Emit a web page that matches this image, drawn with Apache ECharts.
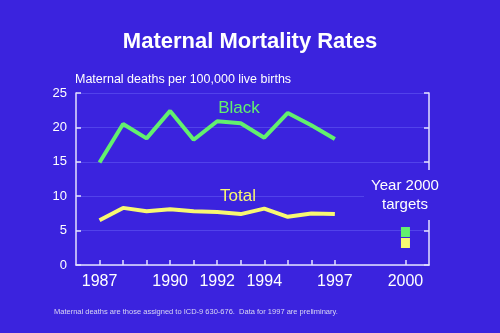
<!DOCTYPE html>
<html><head><meta charset="utf-8">
<script src="https://cdn.jsdelivr.net/npm/echarts@6/dist/echarts.min.js"></script>
<style>html,body{margin:0;padding:0;background:#3b23de}#c{width:500px;height:333px}</style>
</head><body><div id="c"></div>
<script>
const years = [1987,1988,1989,1990,1991,1992,1993,1994,1995,1996,1997];
const black = [14.9,20.5,18.4,22.4,18.2,20.9,20.6,18.5,22.1,20.3,18.3];
const total = [6.5,8.3,7.8,8.1,7.8,7.7,7.4,8.2,7.0,7.5,7.4];
const targetYear = 2000;
const targetBlack = 4.8;
const targetTotal = 3.2;
const xTickYears = [1987,1988,1989,1990,1991,1992,1993,1994,1995,1996,1997,2000];
const xLabelYears = [1987,1990,1992,1994,1997,2000];

const BG = '#3b23de';
const AX = '#e4e2ff';
const font = 'Liberation Sans, Arial, sans-serif';
const chart = echarts.init(document.getElementById('c'), null, {renderer:'canvas'});
const pair = (xs, ys) => xs.map((x,i)=>[x, ys[i]]);

chart.setOption({
  backgroundColor: BG,
  animation: false,
  title: {
    text: 'Maternal Mortality Rates', left: 'center', top: 26,
    textStyle: {color:'#ffffff', fontSize: 22, fontWeight:'bold', fontFamily: font}
  },
  grid: {left: 76, right: 71, top: 93, bottom: 68},
  xAxis: {
    type:'value', min:1986, max:2001, interval:1,
    axisLine:{show:true, lineStyle:{color:AX, width:1.5}},
    axisTick:{show:true, inside:true, length:5, customValues:xTickYears, lineStyle:{color:AX, width:1.5}},
    axisLabel:{customValues:xLabelYears, formatter:(v)=>String(v), color:'#ffffff', fontSize:16, fontFamily:font, margin:9},
    splitLine:{show:false}
  },
  yAxis: [{
    type:'value', min:0, max:25, interval:5,
    name:'Maternal deaths per 100,000 live births', nameLocation:'end', nameGap:7,
    nameTextStyle:{color:'#ffffff', fontSize:12.5, fontFamily:font, align:'left', padding:[0,0,0,-1]},
    axisLine:{show:true, lineStyle:{color:AX, width:1.5}},
    axisTick:{show:true, inside:true, length:5, lineStyle:{color:AX, width:1.5}},
    axisLabel:{color:'#ffffff', fontSize:13, fontFamily:font, margin:9},
    splitLine:{show:true, lineStyle:{color:'#5242ea', width:1}}
  },{
    type:'value', min:0, max:25, interval:5, position:'right',
    axisLine:{show:true, lineStyle:{color:AX, width:1.5}},
    axisTick:{show:true, inside:true, length:5, lineStyle:{color:AX, width:1.5}},
    axisLabel:{show:false},
    splitLine:{show:false}
  }],
  series: [
    {type:'line', data:pair(years, black), showSymbol:false, symbol:'none',
     lineStyle:{color:'#62f06e', width:4}, z:3},
    {type:'line', data:pair(years, total), showSymbol:false, symbol:'none',
     lineStyle:{color:'#f8f872', width:4}, z:3},
    {type:'scatter', data:[[targetYear, targetBlack]], symbol:'rect', symbolSize:[9,10],
     itemStyle:{color:'#62f06e', opacity:1}, z:4},
    {type:'scatter', data:[[targetYear, targetTotal]], symbol:'rect', symbolSize:[9,10],
     itemStyle:{color:'#f8f872', opacity:1}, z:4}
  ],
  graphic: [
    {type:'rect', left:364, top:170, shape:{width:80, height:50}, style:{fill:BG}, z:100},
    {type:'text', x:405, y:186, z:101, style:{text:'Year 2000', fill:'#ffffff', font:'15px '+font, textAlign:'center', textVerticalAlign:'middle'}},
    {type:'text', x:405, y:205, z:101, style:{text:'targets', fill:'#ffffff', font:'15px '+font, textAlign:'center', textVerticalAlign:'middle'}},
    {type:'text', x:239, y:108, z:101, style:{text:'Black', fill:'#62f06e', font:'17px '+font, textAlign:'center', textVerticalAlign:'middle'}},
    {type:'text', x:238, y:196, z:101, style:{text:'Total', fill:'#f8f872', font:'17px '+font, textAlign:'center', textVerticalAlign:'middle'}},
    {type:'text', x:54, y:312, z:101, style:{text:'Maternal deaths are those assigned to ICD-9 630-676.  Data for 1997 are preliminary.', fill:'#d8d6f4', font:'7.5px '+font, textAlign:'left', textVerticalAlign:'middle'}}
  ]
});
</script></body></html>
